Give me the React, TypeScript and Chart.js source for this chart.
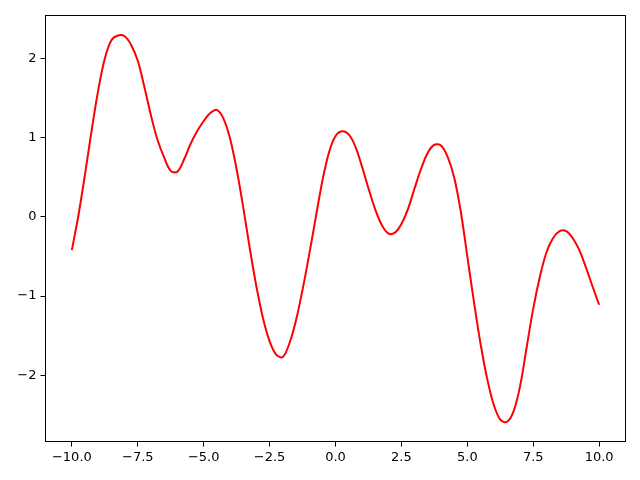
import React, { useEffect, useRef } from "react";
import { Chart, registerables } from "chart.js";

Chart.register(...registerables);

// Curve samples, every 0.25 on x
const xValues = [
  -10, -9.75, -9.5, -9.25, -9, -8.75, -8.5, -8.25, -8, -7.75,
  -7.5, -7.25, -7, -6.75, -6.5, -6.25, -6, -5.75, -5.5, -5.25,
  -5, -4.75, -4.5, -4.25, -4, -3.75, -3.5, -3.25, -3, -2.75,
  -2.5, -2.25, -2, -1.75, -1.5, -1.25, -1, -0.75, -0.5, -0.25,
  0, 0.25, 0.5, 0.75, 1, 1.25, 1.5, 1.75, 2, 2.25,
  2.5, 2.75, 3, 3.25, 3.5, 3.75, 4, 4.25, 4.5, 4.75,
  5, 5.25, 5.5, 5.75, 6, 6.25, 6.5, 6.75, 7, 7.25,
  7.5, 7.75, 8, 8.25, 8.5, 8.75, 9, 9.25, 9.5, 9.75,
  10,
];
const yValues = [
  -0.42, 0.02, 0.54, 1.09, 1.6, 2.0, 2.23, 2.29, 2.28, 2.17,
  1.97, 1.64, 1.28, 0.97, 0.75, 0.58, 0.57, 0.72, 0.92, 1.08,
  1.21, 1.31, 1.35, 1.24, 0.99, 0.6, 0.12, -0.4, -0.88, -1.28,
  -1.57, -1.74, -1.77, -1.6, -1.31, -0.92, -0.48, -0.01, 0.45, 0.81,
  1.02, 1.08, 1.04, 0.89, 0.64, 0.36, 0.1, -0.1, -0.21, -0.2,
  -0.09, 0.1, 0.36, 0.61, 0.81, 0.91, 0.9, 0.76, 0.5, 0.07,
  -0.5, -1.07, -1.6, -2.04, -2.37, -2.56, -2.59, -2.46, -2.14, -1.65,
  -1.16, -0.76, -0.45, -0.27, -0.18, -0.18, -0.27, -0.42, -0.64, -0.88,
  -1.11,
];

const xTicks = [-10, -7.5, -5, -2.5, 0, 2.5, 5, 7.5, 10];
const xTickLabels = ["−10.0", "−7.5", "−5.0", "−2.5", "0.0", "2.5", "5.0", "7.5", "10.0"];
const yTicks = [-2, -1, 0, 1, 2];
const yTickLabels = ["−2", "−1", "0", "1", "2"];

const frame = {
  id: "frame",
  afterDraw(chart: any) {
    const { ctx, chartArea: a } = chart;
    ctx.save();
    ctx.strokeStyle = "#000";
    ctx.lineWidth = 1;
    ctx.strokeRect(a.left, a.top, a.right - a.left, a.bottom - a.top);
    ctx.restore();
  },
};

export default function App() {
  const ref = useRef<HTMLCanvasElement>(null);
  useEffect(() => {
    const data = xValues.map((x, i) => ({ x, y: yValues[i] }));
    const font = { family: "DejaVu Sans", size: 13 };
    const chart = new Chart(ref.current!, {
      type: "scatter",
      data: {
        datasets: [
          {
            data,
            showLine: true,
            borderColor: "#ff0000",
            borderWidth: 2,
            pointRadius: 0,
            tension: 0.35,
          } as any,
        ],
      },
      options: {
        animation: false,
        responsive: false,
        layout: { padding: { left: 0, top: 15.5, right: 14.5, bottom: 0 } },
        plugins: { legend: { display: false }, tooltip: { enabled: false } },
        scales: {
          x: {
            type: "linear",
            min: -11,
            max: 11,
            afterBuildTicks: (s: any) => {
              s.ticks = xTicks.map((v) => ({ value: v }));
            },
            afterFit: (s: any) => {
              s.height = 38.5;
            },
            grid: { display: true, drawOnChartArea: false, tickLength: 5, color: "#000", tickWidth: 1 },
            border: { display: false },
            ticks: {
              color: "#000",
              font,
              padding: 3,
              maxRotation: 0,
              autoSkip: false,
              callback: (v: any) => xTickLabels[xTicks.indexOf(Number(v))] ?? "",
            },
          },
          y: {
            type: "linear",
            min: -2.837,
            max: 2.542,
            afterBuildTicks: (s: any) => {
              s.ticks = yTicks.map((v) => ({ value: v }));
            },
            afterFit: (s: any) => {
              s.width = 45.5;
            },
            grid: { display: true, drawOnChartArea: false, tickLength: 5, color: "#000", tickWidth: 1 },
            border: { display: false },
            ticks: {
              color: "#000",
              font,
              padding: 4,
              autoSkip: false,
              callback: (v: any) => yTickLabels[yTicks.indexOf(Number(v))] ?? "",
            },
          },
        },
      },
      plugins: [frame],
    });
    return () => chart.destroy();
  }, []);
  return (
    <div style={{ position: "fixed", left: 0, top: 0, width: 640, height: 480, background: "#fff" }}>
      <canvas ref={ref} width={640} height={480} style={{ width: 640, height: 480 }} />
    </div>
  );
}
